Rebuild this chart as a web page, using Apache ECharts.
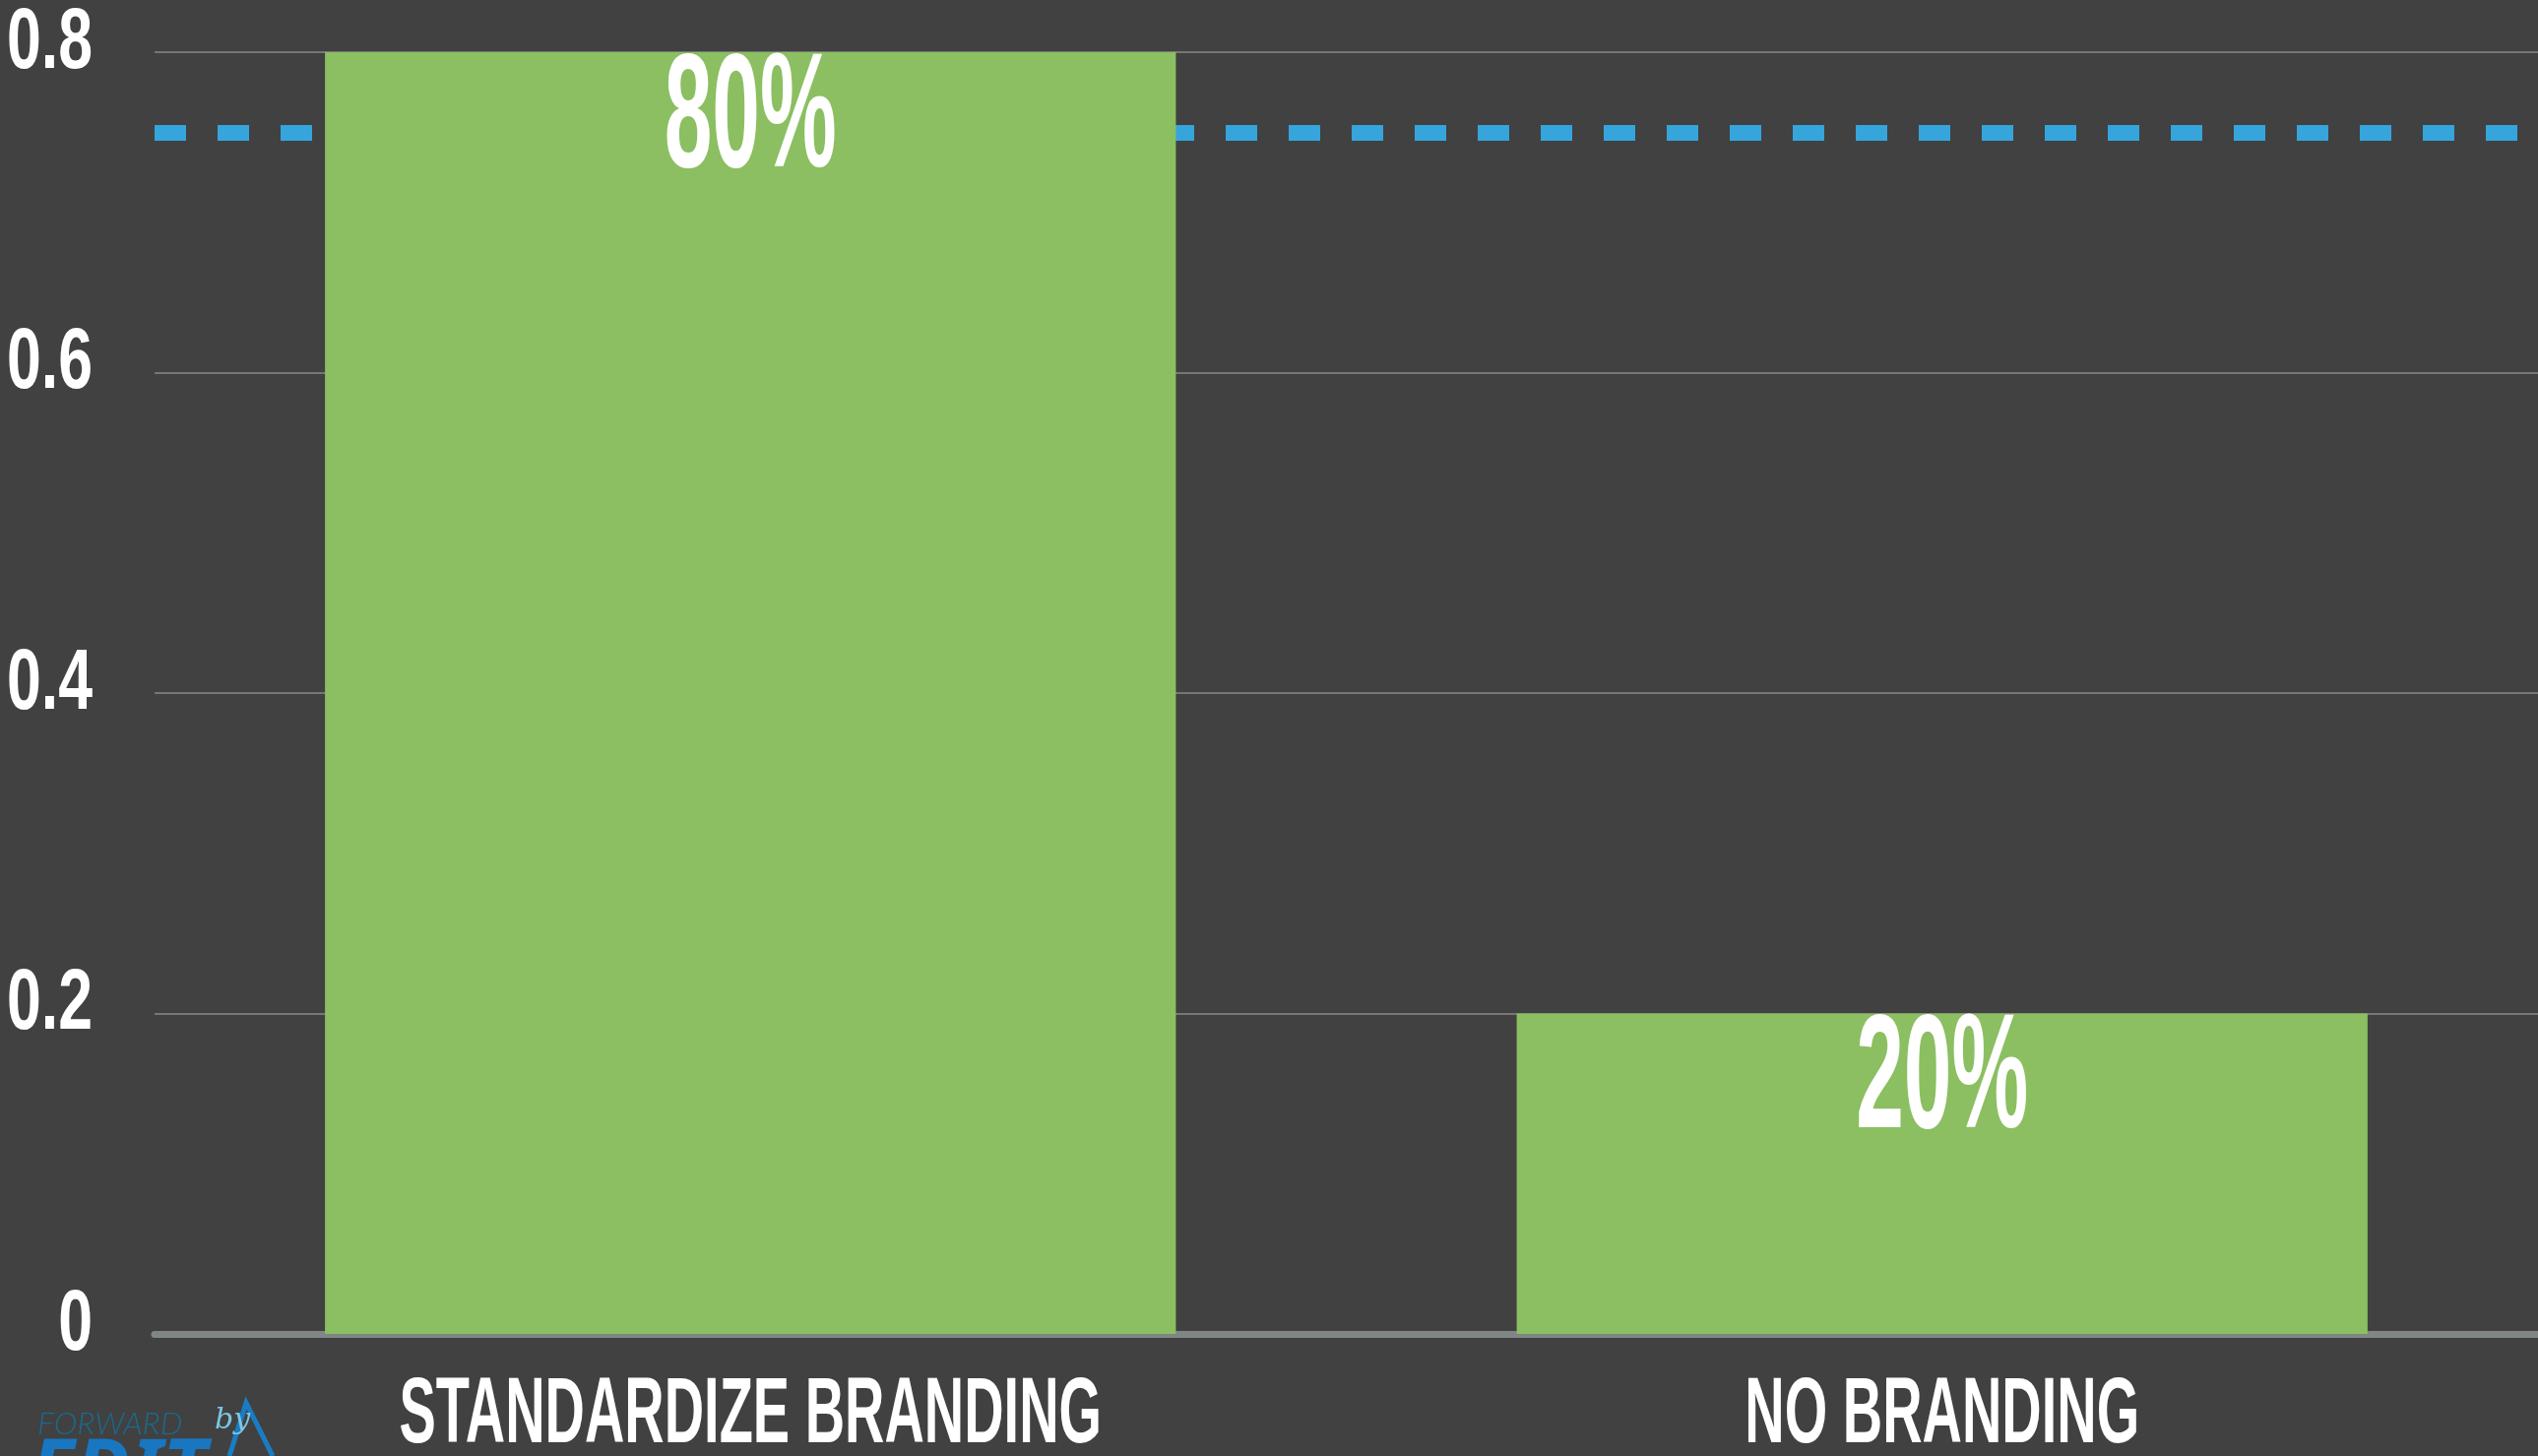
<!DOCTYPE html>
<html>
<head>
<meta charset="utf-8">
<script src="https://cdn.jsdelivr.net/npm/echarts@6/dist/echarts.min.js"></script>
<style>
html,body{margin:0;padding:0;background:#414141;}
#chart{width:2578px;height:1479px;}
</style>
</head>
<body>
<div id="chart"></div>
<script>
const categories = ['STANDARDIZE BRANDING', 'NO BRANDING'];
const values = [0.8, 0.2];
const targetValue = 0.75;
const yTicks = [0, 0.2, 0.4, 0.6, 0.8];
const yTickLabels = ['0', '0.2', '0.4', '0.6', '0.8'];

const FONT = "'Liberation Sans', Arial, sans-serif";

const chart = echarts.init(document.getElementById('chart'), null, {renderer: 'canvas'});
chart.setOption({
  backgroundColor: '#414141',
  animation: false,
  grid: {left: 157, right: 0, top: 53, bottom: 124, containLabel: false, outerBoundsMode: 'none'},
  xAxis: {
    type: 'category',
    data: categories,
    axisLine: {show: true, lineStyle: {color: '#808585', width: 7}},
    axisTick: {show: false},
    axisLabel: {show: false}
  },
  yAxis: {
    type: 'value',
    min: yTicks[0],
    max: yTicks[yTicks.length - 1],
    interval: 0.2,
    axisLine: {show: false},
    axisTick: {show: false},
    splitLine: {lineStyle: {color: '#767676', width: 2}},
    axisLabel: {show: false}
  },
  series: [
    {
      type: 'bar',
      data: values,
      barWidth: '71.4%',
      z: 3,
      itemStyle: {color: '#8bbf61'},
      label: {show: false}
    },
    {
      type: 'line',
      data: [],
      z: 1,
      markLine: {
        silent: true,
        symbol: 'none',
        z: 1,
        label: {show: false},
        lineStyle: {color: '#35a5dc', width: 16, type: [32, 32], cap: 'butt'},
        data: [{yAxis: targetValue}]
      }
    },
    {
      // value labels on bars (condensed look via scaleX)
      type: 'custom',
      z: 5,
      clip: false,
      silent: true,
      data: values.map((v, i) => [i, v]),
      renderItem: (params, api) => {
        const p = api.coord([api.value(0), api.value(1)]);
        return {
          type: 'text', x: p[0], y: p[1] + 70, scaleX: 0.53,
          style: {text: Math.round(api.value(1) * 100) + '%', fill: '#ffffff',
            font: "bold 165px " + FONT, align: 'center', verticalAlign: 'middle'}
        };
      }
    },
    {
      // category labels under the axis
      type: 'custom',
      z: 5,
      clip: false,
      silent: true,
      data: categories.map((c, i) => [i, 0]),
      renderItem: (params, api) => {
        const p = api.coord([api.value(0), 0]);
        return {
          type: 'text', x: p[0], y: p[1] + 84, scaleX: 0.595,
          style: {text: categories[params.dataIndex], fill: '#ffffff',
            font: "bold 94px " + FONT, align: 'center', verticalAlign: 'middle'}
        };
      }
    },
    {
      // y tick labels
      type: 'custom',
      z: 5,
      clip: false,
      silent: true,
      data: yTicks.map(v => [0, v]),
      renderItem: (params, api) => {
        const p = api.coord([0, api.value(1)]);
        return {
          type: 'text', x: params.coordSys.x - 63, y: p[1] - 8, scaleX: 0.72,
          style: {text: yTickLabels[params.dataIndex], fill: '#ffffff',
            font: "bold 87px " + FONT, align: 'right', verticalAlign: 'middle'}
        };
      }
    }
  ],
  graphic: [
    {type: 'text', left: 38, top: 1431, z: 10,
      style: {text: 'FORWARD', fill: '#1b6a8c', font: "italic 300 32px Lato, 'Noto Sans', sans-serif", letterSpacing: 11}},
    {type: 'text', left: 30, top: 1456, z: 10,
      style: {text: 'EDIT', fill: '#1976c0', font: "italic bold 84px 'Noto Sans', sans-serif"}},
    {type: 'polyline', z: 10,
      shape: {points: [[233, 1479], [250, 1425], [277, 1479]]},
      style: {stroke: '#1a7cc4', lineWidth: 5, fill: 'none'}},
    {type: 'text', left: 218, top: 1428, z: 11,
      style: {text: 'by', fill: '#7cc6e6', font: "italic 30px 'DejaVu Serif', serif"}}
  ]
});
</script>
</body>
</html>
